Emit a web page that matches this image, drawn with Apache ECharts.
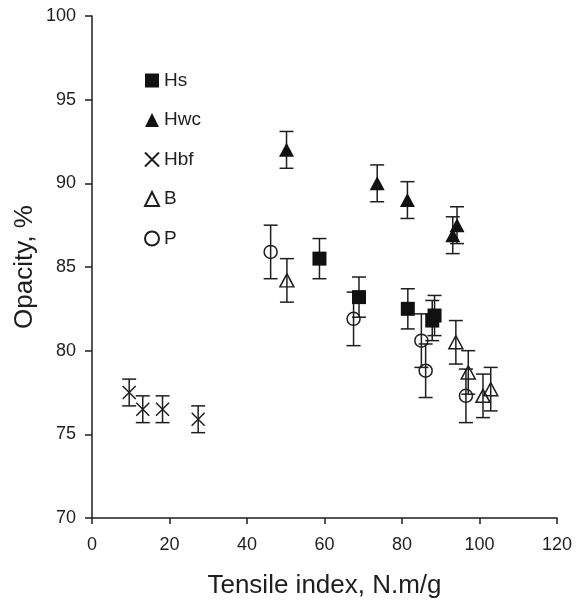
<!DOCTYPE html>
<html><head><meta charset="utf-8">
<script src="https://cdn.jsdelivr.net/npm/echarts@6/dist/echarts.min.js"></script>
<style>html,body{margin:0;padding:0;background:#fff}#c{width:584px;height:601px}</style>
</head><body><div id="c"></div>
<script>
var hsX = [58.7, 68.9, 81.5, 87.8, 88.4];
var hsY = [85.5, 83.2, 82.5, 81.8, 82.1];
var hsErr = [1.2, 1.2, 1.2, 1.2, 1.2];
var hwcX = [50.2, 73.6, 81.4, 93.1, 94.2];
var hwcY = [92.0, 90.0, 89.0, 86.9, 87.5];
var hwcErr = [1.1, 1.1, 1.1, 1.1, 1.1];
var hbfX = [9.6, 13.1, 18.2, 27.4];
var hbfY = [77.5, 76.5, 76.5, 75.9];
var hbfErr = [0.8, 0.8, 0.8, 0.8];
var bX = [50.3, 93.9, 97.1, 100.9, 102.9];
var bY = [84.2, 80.5, 78.7, 77.3, 77.7];
var bErr = [1.3, 1.3, 1.3, 1.3, 1.3];
var pX = [46.1, 67.5, 85.0, 86.1, 96.5];
var pY = [85.9, 81.9, 80.6, 78.8, 77.3];
var pErr = [1.6, 1.6, 1.6, 1.6, 1.6];
var xTicks = [0, 20, 40, 60, 80, 100, 120];
var yTicks = [70, 75, 80, 85, 90, 95, 100];
var seriesNames = ['Hs', 'Hwc', 'Hbf', 'B', 'P'];

var ink = '#1e1e1e';
function pts(xs, ys) { return xs.map(function (x, i) { return [x, ys[i]]; }); }
function errPts(xs, ys, es) { return xs.map(function (x, i) { return [x, ys[i], es[i]]; }); }
function errSeries(xs, ys, es) {
  return {
    type: 'custom', silent: true, z: 1,
    data: errPts(xs, ys, es),
    encode: { x: 0, y: 1 },
    renderItem: function (params, api) {
      var x = api.value(0), y = api.value(1), e = api.value(2);
      var top = api.coord([x, y + e]), bot = api.coord([x, y - e]);
      var hw = 7;
      var st = { stroke: ink, lineWidth: 1.5 };
      return { type: 'group', children: [
        { type: 'line', shape: { x1: top[0], y1: top[1], x2: bot[0], y2: bot[1] }, style: st },
        { type: 'line', shape: { x1: top[0] - hw, y1: top[1], x2: top[0] + hw, y2: top[1] }, style: st },
        { type: 'line', shape: { x1: bot[0] - hw, y1: bot[1], x2: bot[0] + hw, y2: bot[1] }, style: st }
      ] };
    }
  };
}
var crossPath = 'path://M0,0L10,10M10,0L0,10';
var chart = echarts.init(document.getElementById('c'));
chart.setOption({
  animation: false,
  backgroundColor: '#fff',
  textStyle: { fontFamily: 'Liberation Sans, Arial, sans-serif', color: ink },
  grid: { left: 92, right: 27, top: 16, bottom: 83, outerBoundsMode: 'none', containLabel: false },
  legend: {
    data: seriesNames, orient: 'vertical', left: 144, top: 71, padding: 0,
    itemWidth: 14, itemHeight: 14, itemGap: 20.5,
    textStyle: { fontSize: 19, color: ink },
    selectedMode: false
  },
  xAxis: {
    type: 'value', min: xTicks[0], max: xTicks[xTicks.length - 1], interval: 20,
    name: 'Tensile index, N.m/g', nameLocation: 'middle', nameGap: 55, nameMoveOverlap: false,
    nameTextStyle: { fontSize: 26, color: ink },
    axisLine: { show: true, lineStyle: { color: ink, width: 1.5 } },
    axisTick: { show: true, length: 6, lineStyle: { color: ink, width: 1.5 } },
    axisLabel: { fontSize: 18, color: ink, margin: 18 },
    splitLine: { show: false }
  },
  yAxis: {
    type: 'value', min: yTicks[0], max: yTicks[yTicks.length - 1], interval: 5,
    name: 'Opacity, %', nameLocation: 'middle', nameGap: 54, nameRotate: 90, nameMoveOverlap: false,
    nameTextStyle: { fontSize: 26, color: ink },
    axisLine: { show: true, lineStyle: { color: ink, width: 1.5 } },
    axisTick: { show: true, length: 7, lineStyle: { color: ink, width: 1.5 } },
    axisLabel: { fontSize: 18, color: ink, margin: 16 },
    splitLine: { show: false }
  },
  series: [
    errSeries(hsX, hsY, hsErr),
    errSeries(hwcX, hwcY, hwcErr),
    errSeries(hbfX, hbfY, hbfErr),
    errSeries(bX, bY, bErr),
    errSeries(pX, pY, pErr),
    { name: 'Hs', type: 'scatter', z: 3, data: pts(hsX, hsY), symbol: 'rect', symbolSize: 14,
      itemStyle: { color: '#111', opacity: 1 } },
    { name: 'Hwc', type: 'scatter', z: 3, data: pts(hwcX, hwcY), symbol: 'triangle', symbolSize: [15, 14],
      itemStyle: { color: '#111', opacity: 1 } },
    { name: 'Hbf', type: 'scatter', z: 3, data: pts(hbfX, hbfY), symbol: crossPath, symbolSize: 13,
      itemStyle: { color: 'rgba(0,0,0,0)', borderColor: ink, borderWidth: 1.5, opacity: 1 } },
    { name: 'B', type: 'scatter', z: 3, data: pts(bX, bY), symbol: 'triangle', symbolSize: [14, 13],
      itemStyle: { color: 'rgba(0,0,0,0)', borderColor: ink, borderWidth: 1.5, opacity: 1 } },
    { name: 'P', type: 'scatter', z: 3, data: pts(pX, pY), symbol: 'circle', symbolSize: 13,
      itemStyle: { color: 'rgba(0,0,0,0)', borderColor: ink, borderWidth: 1.5, opacity: 1 } }
  ]
});
</script></body></html>
